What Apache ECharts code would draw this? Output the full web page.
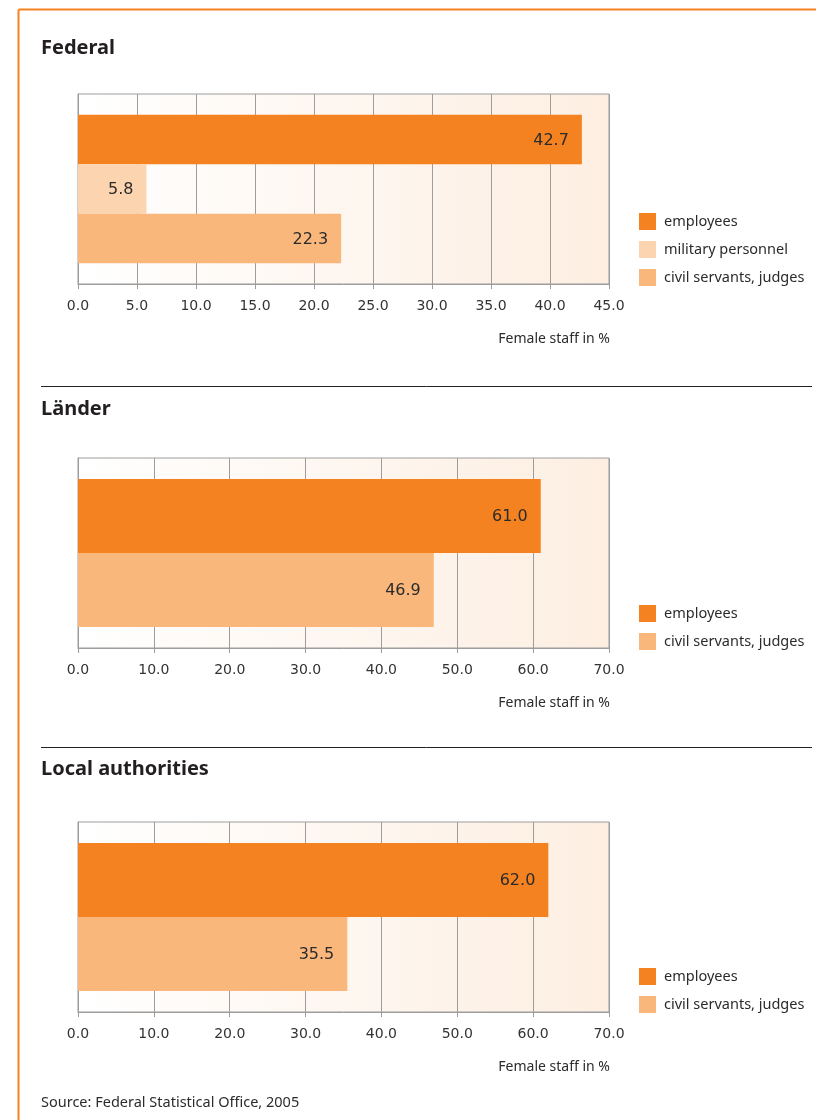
<!DOCTYPE html>
<html>
<head>
<meta charset="utf-8">
<script src="https://cdn.jsdelivr.net/npm/echarts@6/dist/echarts.min.js"></script>
<style>
html,body{margin:0;padding:0;background:#fff;}
#c{width:816px;height:1120px;}
</style>
</head>
<body>
<div id="c"></div>
<script>
// ---- data ----
var panelTitles = ['Federal', 'Länder', 'Local authorities'];
var seriesNames = ['employees', 'military personnel', 'civil servants, judges'];
var federalValues = [42.7, 5.8, 22.3];          // employees, military personnel, civil servants/judges
var laenderValues = [61.0, 46.9];               // employees, civil servants/judges
var localValues = [62.0, 35.5];                 // employees, civil servants/judges
var federalAxis = {min: 0, max: 45, interval: 5};
var laenderAxis = {min: 0, max: 70, interval: 10};
var localAxis = {min: 0, max: 70, interval: 10};
var axisName = 'Female staff in %';
var sourceText = 'Source: Federal Statistical Office, 2005';

// ---- styles ----
var colors = {'employees': '#f58220', 'military personnel': '#fdd4b0', 'civil servants, judges': '#fab77c'};
var gridColor = '#9d9d9d';
var orange = '#f58220';
var numFont = 'DejaVu Sans';
var txtFont = 'Noto Sans';

var chart = echarts.init(document.getElementById('c'), null, {renderer: 'canvas'});

var grids = [
  {left: 78, top: 94, width: 531, height: 190},
  {left: 78, top: 458, width: 531, height: 190},
  {left: 78, top: 822, width: 531, height: 190}
];
var axesCfg = [federalAxis, laenderAxis, localAxis];
var panels = [
  {names: ['employees', 'military personnel', 'civil servants, judges'], values: federalValues, barWidth: 49.5},
  {names: ['employees', 'civil servants, judges'], values: laenderValues, barWidth: 74},
  {names: ['employees', 'civil servants, judges'], values: localValues, barWidth: 74}
];
var legendTops = [213, 605, 968];
var titleY = [48, 409, 769];
var axisNameY = [339, 703, 1067];

var bg = new echarts.graphic.LinearGradient(0, 0, 1, 0, [
  {offset: 0, color: '#ffffff'}, {offset: 1, color: '#fdeee1'}
]);

var option = {
  animation: false,
  backgroundColor: '#ffffff',
  grid: grids.map(function (g) {
    return Object.assign({show: true, backgroundColor: bg, borderColor: gridColor, borderWidth: 1}, g);
  }),
  xAxis: axesCfg.map(function (a, i) {
    return {
      type: 'value', gridIndex: i, min: a.min, max: a.max, interval: a.interval,
      axisLine: {show: true, lineStyle: {color: gridColor, width: 1}},
      axisTick: {show: true, length: 5, lineStyle: {color: gridColor}},
      splitLine: {show: true, lineStyle: {color: gridColor, width: 1}},
      axisLabel: {
        margin: 15, color: '#333', fontFamily: numFont, fontSize: 14,
        formatter: function (v) { return v.toFixed(1); }
      }
    };
  }),
  yAxis: panelTitles.map(function (t, i) {
    return {
      type: 'category', gridIndex: i, data: [t], inverse: true,
      axisLine: {show: true, lineStyle: {color: gridColor}},
      axisTick: {show: false}, axisLabel: {show: false}, splitLine: {show: false}
    };
  }),
  legend: panels.map(function (p, i) {
    return {
      data: p.names, orient: 'vertical', left: 639, top: legendTops[i],
      itemWidth: 17, itemHeight: 17, itemGap: 11, icon: 'rect', padding: 0,
      selectedMode: false,
      textStyle: {fontFamily: txtFont, fontSize: 14.5, color: '#2b2b2b', padding: [0, 0, 0, 3]}
    };
  }),
  series: [],
  graphic: []
};

panels.forEach(function (p, i) {
  p.names.forEach(function (n, k) {
    option.series.push({
      type: 'bar', name: n, xAxisIndex: i, yAxisIndex: i,
      data: [p.values[k]], barWidth: p.barWidth, barGap: '0%',
      itemStyle: {color: colors[n]},
      label: {
        show: true, position: 'insideRight', distance: 13, offset: [0, 1],
        fontFamily: numFont, fontSize: 16, color: '#2b2b2b',
        formatter: function (d) { return d.value.toFixed(1); }
      }
    });
  });
});

// frame, titles, separators, axis names, source
option.graphic.push(
  {type: 'line', shape: {x1: 18.5, y1: 9.5, x2: 816, y2: 9.5}, style: {stroke: orange, lineWidth: 2}},
  {type: 'line', shape: {x1: 18.5, y1: 9.5, x2: 18.5, y2: 1120}, style: {stroke: orange, lineWidth: 2}},
  {type: 'line', shape: {x1: 41, y1: 386.5, x2: 812, y2: 386.5}, style: {stroke: '#222', lineWidth: 1}},
  {type: 'line', shape: {x1: 41, y1: 747.5, x2: 812, y2: 747.5}, style: {stroke: '#222', lineWidth: 1}}
);
panelTitles.forEach(function (t, i) {
  option.graphic.push({
    type: 'text', x: 41, y: titleY[i],
    style: {text: t, font: 'bold 20px "Noto Sans"', fill: '#231f20', align: 'left', verticalAlign: 'middle', textAlign: 'left', textVerticalAlign: 'middle'}
  });
  option.graphic.push({
    type: 'text', x: 610, y: axisNameY[i],
    style: {text: axisName, font: '14px "Noto Sans"', fill: '#2b2b2b', align: 'right', verticalAlign: 'middle', textAlign: 'right', textVerticalAlign: 'middle'}
  });
});
option.graphic.push({
  type: 'text', x: 41, y: 1103,
  style: {text: sourceText, font: '14.5px "Noto Sans"', fill: '#2b2b2b', align: 'left', verticalAlign: 'middle', textAlign: 'left', textVerticalAlign: 'middle'}
});

chart.setOption(option);
</script>
</body>
</html>
